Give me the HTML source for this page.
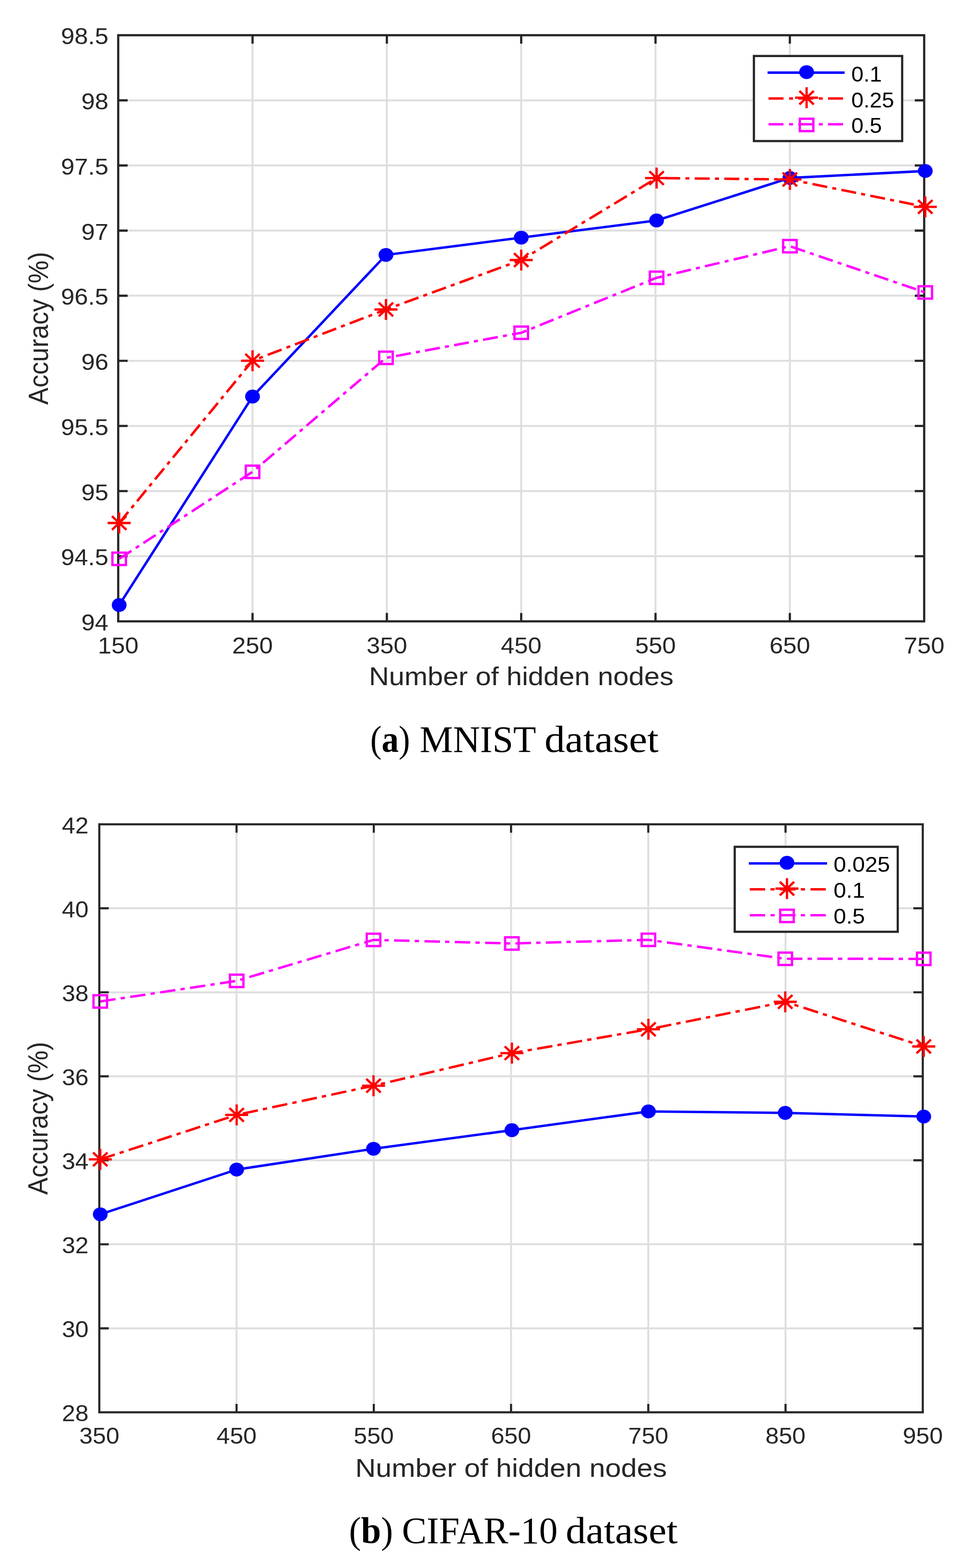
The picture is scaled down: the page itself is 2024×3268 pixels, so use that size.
<!DOCTYPE html>
<html><head><meta charset="utf-8"><title>Accuracy vs hidden nodes</title><style>html,body{margin:0;padding:0;background:#fff;}svg{display:block;}</style></head><body>
<svg width="2024" height="3268" viewBox="0 0 2024 3268">
<rect width="2024" height="3268" fill="#fff"/>
<rect x="246.4" y="73.4" width="1680" height="1221.6" fill="#fff"/>
<path d="M526.4 73.4V1295M806.4 73.4V1295M1086.4 73.4V1295M1366.4 73.4V1295M1646.4 73.4V1295M246.4 1159.27H1926.4M246.4 1023.53H1926.4M246.4 887.8H1926.4M246.4 752.07H1926.4M246.4 616.33H1926.4M246.4 480.6H1926.4M246.4 344.87H1926.4M246.4 209.13H1926.4" stroke="#dedede" stroke-width="4.0" fill="none"/>
<path d="M526.4 1295V1277.5M526.4 73.4V90.9M806.4 1295V1277.5M806.4 73.4V90.9M1086.4 1295V1277.5M1086.4 73.4V90.9M1366.4 1295V1277.5M1366.4 73.4V90.9M1646.4 1295V1277.5M1646.4 73.4V90.9M246.4 1159.27H266M1926.4 1159.27H1906.8M246.4 1023.53H266M1926.4 1023.53H1906.8M246.4 887.8H266M1926.4 887.8H1906.8M246.4 752.07H266M1926.4 752.07H1906.8M246.4 616.33H266M1926.4 616.33H1906.8M246.4 480.6H266M1926.4 480.6H1906.8M246.4 344.87H266M1926.4 344.87H1906.8M246.4 209.13H266M1926.4 209.13H1906.8" stroke="#262626" stroke-width="4.6" fill="none"/>
<rect x="246.4" y="73.4" width="1680" height="1221.6" stroke="#262626" stroke-width="4.6" fill="none" stroke-linejoin="miter"/>
<polyline points="248.4,1261 526.4,826.5 804.5,531.3 1086.5,495.3 1368.6,459.5 1646.5,370.9 1928.7,356.4" stroke="#0000ff" stroke-width="5.1" fill="none" stroke-linejoin="miter" stroke-linecap="butt"/>
<path d="M248.4 1090L267.37 1066.92M274 1058.86L279.06 1052.7M285.74 1044.57L304.72 1021.49M311.34 1013.43L316.4 1007.27M323.09 999.14L342.06 976.05M348.69 967.99L353.75 961.84M360.43 953.71L379.41 930.62M386.03 922.56L391.09 916.41M397.78 908.28L416.75 885.19M423.38 877.13L428.43 870.98M435.12 862.85L454.09 839.76M460.72 831.7L465.78 825.55M472.46 817.42L491.44 794.33M498.06 786.27L503.12 780.12M509.81 771.99L526.4 751.8L530.03 750.4M540.14 746.52L547.85 743.56M558.05 739.65L586.99 728.53M597.09 724.65L604.81 721.69M615 717.77L643.94 706.66M654.05 702.78L661.76 699.82M671.96 695.9L700.9 684.79M711.01 680.91L718.72 677.94M728.92 674.03L757.86 662.91M767.96 659.03L775.67 656.07M785.87 652.15L804.5 645L814.88 641.21M825.06 637.49L832.83 634.65M843.1 630.9L872.24 620.26M882.42 616.54L890.19 613.7M900.46 609.95L929.6 599.31M939.78 595.59L947.55 592.75M957.82 589L986.96 578.36M997.14 574.64L1004.9 571.8M1015.17 568.05L1044.32 557.41M1054.5 553.69L1062.26 550.85M1072.53 547.1L1086.5 542L1100.15 533.73M1109.31 528.18L1116.29 523.95M1125.53 518.35L1151.75 502.47M1160.9 496.92L1167.89 492.69M1177.13 487.1L1203.35 471.21M1212.5 465.67L1219.49 461.43M1228.73 455.84L1254.94 439.95M1264.1 434.41L1271.09 430.17M1280.32 424.58L1306.54 408.7M1315.7 403.15L1322.68 398.92M1331.92 393.32L1358.14 377.44M1367.29 371.89L1368.6 371.1L1375.39 371.17M1386.43 371.29L1417.76 371.61M1428.7 371.73L1437.04 371.81M1448.08 371.93L1479.41 372.26M1490.35 372.37L1498.7 372.46M1509.74 372.57L1541.07 372.9M1552.01 373.01L1560.36 373.1M1571.4 373.22L1602.72 373.54M1613.66 373.66L1622.01 373.74M1633.05 373.86L1646.5 374L1663.97 377.53M1674.66 379.7L1682.81 381.35M1693.6 383.53L1724.21 389.72M1734.9 391.89L1743.05 393.54M1753.84 395.72L1784.45 401.91M1795.13 404.07L1803.29 405.72M1814.08 407.91L1844.68 414.1M1855.37 416.26L1863.53 417.91M1874.32 420.1L1904.92 426.29M1915.61 428.45L1923.77 430.1" stroke="#ff0000" stroke-width="5.1" fill="none" stroke-linejoin="miter" stroke-linecap="butt"/>
<path d="M248.4 1164.7L274.01 1148M282.96 1142.16L289.79 1137.71M298.81 1131.82L324.43 1115.12M333.37 1109.29L340.2 1104.83M349.22 1098.95L374.84 1082.24M383.78 1076.41L390.61 1071.96M399.63 1066.07L425.25 1049.37M434.19 1043.53L441.02 1039.08M450.04 1033.2L475.66 1016.49M484.6 1010.66L491.43 1006.21M500.46 1000.32L526.07 983.62M534.14 976.78L540.28 971.54M548.39 964.61L571.42 944.94M579.46 938.07L585.6 932.82M593.71 925.89L616.74 906.22M624.78 899.35L630.91 894.11M639.03 887.18L662.05 867.5M670.09 860.63L676.23 855.39M684.34 848.46L707.37 828.79M715.41 821.92L721.54 816.67M729.66 809.74L752.68 790.07M760.72 783.2L766.86 777.96M774.97 771.03L798 751.35M806.55 745.42L814.74 743.9M825.57 741.89L856.29 736.2M867.01 734.21L875.2 732.69M886.03 730.68L916.75 724.98M927.47 722.99L935.66 721.47M946.48 719.47L977.2 713.77M987.93 711.78L996.12 710.26M1006.94 708.25L1037.66 702.56M1048.39 700.57L1056.58 699.05M1067.4 697.04L1086.5 693.5L1097.36 689.09M1107.38 685.03L1115.02 681.92M1125.13 677.82L1153.83 666.17M1163.85 662.11L1171.5 659M1181.61 654.9L1210.3 643.25M1220.32 639.18L1227.97 636.08M1238.08 631.98L1266.77 620.33M1276.79 616.26L1284.44 613.16M1294.55 609.05L1323.25 597.41M1333.27 593.34L1340.91 590.24M1351.02 586.13L1368.6 579L1380.36 576.21M1390.96 573.7L1399.05 571.78M1409.74 569.24L1440.09 562.05M1450.69 559.53L1458.78 557.62M1469.47 555.08L1499.83 547.88M1510.42 545.37L1518.51 543.45M1529.21 540.91L1559.56 533.72M1570.16 531.2L1578.24 529.29M1588.94 526.75L1619.29 519.55M1629.89 517.04L1637.98 515.12M1648.6 513.82L1678 523.86M1688.26 527.37L1696.09 530.04M1706.45 533.58L1735.84 543.62M1746.11 547.13L1753.94 549.8M1764.3 553.34L1793.69 563.38M1803.96 566.89L1811.79 569.56M1822.15 573.1L1851.54 583.14M1861.81 586.65L1869.64 589.32M1880 592.86L1909.39 602.9M1919.65 606.41L1927.49 609.09" stroke="#ff00ff" stroke-width="5.1" fill="none" stroke-linejoin="miter" stroke-linecap="butt"/>
<ellipse cx="248.4" cy="1261" rx="15.4" ry="14.4" fill="#0000ff"/>
<ellipse cx="526.4" cy="826.5" rx="15.4" ry="14.4" fill="#0000ff"/>
<ellipse cx="804.5" cy="531.3" rx="15.4" ry="14.4" fill="#0000ff"/>
<ellipse cx="1086.5" cy="495.3" rx="15.4" ry="14.4" fill="#0000ff"/>
<ellipse cx="1368.6" cy="459.5" rx="15.4" ry="14.4" fill="#0000ff"/>
<ellipse cx="1646.5" cy="370.9" rx="15.4" ry="14.4" fill="#0000ff"/>
<ellipse cx="1928.7" cy="356.4" rx="15.4" ry="14.4" fill="#0000ff"/>
<path d="M224.4 1090H272.4M248.4 1068.15V1111.85M233.4 1075.8L263.4 1104.2M233.4 1104.2L263.4 1075.8" stroke="#ff0000" stroke-width="4.8" fill="none" stroke-linecap="butt"/>
<path d="M502.4 751.8H550.4M526.4 729.95V773.65M511.4 737.6L541.4 766M511.4 766L541.4 737.6" stroke="#ff0000" stroke-width="4.8" fill="none" stroke-linecap="butt"/>
<path d="M780.5 645H828.5M804.5 623.15V666.85M789.5 630.8L819.5 659.2M789.5 659.2L819.5 630.8" stroke="#ff0000" stroke-width="4.8" fill="none" stroke-linecap="butt"/>
<path d="M1062.5 542H1110.5M1086.5 520.15V563.85M1071.5 527.8L1101.5 556.2M1071.5 556.2L1101.5 527.8" stroke="#ff0000" stroke-width="4.8" fill="none" stroke-linecap="butt"/>
<path d="M1344.6 371.1H1392.6M1368.6 349.25V392.95M1353.6 356.9L1383.6 385.3M1353.6 385.3L1383.6 356.9" stroke="#ff0000" stroke-width="4.8" fill="none" stroke-linecap="butt"/>
<path d="M1622.5 374H1670.5M1646.5 352.15V395.85M1631.5 359.8L1661.5 388.2M1631.5 388.2L1661.5 359.8" stroke="#ff0000" stroke-width="4.8" fill="none" stroke-linecap="butt"/>
<path d="M1904.7 431.1H1952.7M1928.7 409.25V452.95M1913.7 416.9L1943.7 445.3M1913.7 445.3L1943.7 416.9" stroke="#ff0000" stroke-width="4.8" fill="none" stroke-linecap="butt"/>
<rect x="234.3" y="1151.8" width="28.2" height="25.8" stroke="#ff00ff" stroke-width="4.8" fill="none"/>
<rect x="512.3" y="970.5" width="28.2" height="25.8" stroke="#ff00ff" stroke-width="4.8" fill="none"/>
<rect x="790.4" y="732.9" width="28.2" height="25.8" stroke="#ff00ff" stroke-width="4.8" fill="none"/>
<rect x="1072.4" y="680.6" width="28.2" height="25.8" stroke="#ff00ff" stroke-width="4.8" fill="none"/>
<rect x="1354.5" y="566.1" width="28.2" height="25.8" stroke="#ff00ff" stroke-width="4.8" fill="none"/>
<rect x="1632.4" y="500.2" width="28.2" height="25.8" stroke="#ff00ff" stroke-width="4.8" fill="none"/>
<rect x="1914.6" y="596.6" width="28.2" height="25.8" stroke="#ff00ff" stroke-width="4.8" fill="none"/>
<rect x="1571.5" y="116.7" width="309" height="177.3" fill="#fff" stroke="#262626" stroke-width="4.6"/>
<polyline points="1600,151.4 1760.6,151.4" stroke="#0000ff" stroke-width="5.1" fill="none" stroke-linejoin="miter" stroke-linecap="butt"/>
<ellipse cx="1681.3" cy="150.3" rx="15.4" ry="14.4" fill="#0000ff"/>
<text transform="translate(1774.5,169.6) scale(1.027,1)" font-family="'Liberation Sans', Arial, Helvetica, sans-serif" font-size="44.6" text-anchor="start" fill="#000">0.1</text>
<path d="M1602 205.3L1633.2 205.3M1644.8 205.3L1652.9 205.3M1664 205.3L1695.2 205.3M1706.8 205.3L1714.9 205.3M1726 205.3L1757.2 205.3" stroke="#ff0000" stroke-width="5.1" fill="none" stroke-linejoin="miter" stroke-linecap="butt"/>
<path d="M1657.3 203.6H1705.3M1681.3 181.75V225.45M1666.3 189.4L1696.3 217.8M1666.3 217.8L1696.3 189.4" stroke="#ff0000" stroke-width="4.8" fill="none" stroke-linecap="butt"/>
<text transform="translate(1774.5,223.9) scale(1.027,1)" font-family="'Liberation Sans', Arial, Helvetica, sans-serif" font-size="44.6" text-anchor="start" fill="#000">0.25</text>
<path d="M1602 259L1633.2 259M1644.8 259L1652.9 259M1664 259L1695.2 259M1706.8 259L1714.9 259M1726 259L1757.2 259" stroke="#ff00ff" stroke-width="5.1" fill="none" stroke-linejoin="miter" stroke-linecap="butt"/>
<rect x="1667.2" y="247.5" width="28.2" height="25.8" stroke="#ff00ff" stroke-width="4.8" fill="none"/>
<text transform="translate(1774.5,277.2) scale(1.027,1)" font-family="'Liberation Sans', Arial, Helvetica, sans-serif" font-size="44.6" text-anchor="start" fill="#000">0.5</text>
<text transform="translate(246.4,1361.9) scale(1.075,1)" font-family="'Liberation Sans', Arial, Helvetica, sans-serif" font-size="47.3" text-anchor="middle" fill="#262626">150</text>
<text transform="translate(526.4,1361.9) scale(1.075,1)" font-family="'Liberation Sans', Arial, Helvetica, sans-serif" font-size="47.3" text-anchor="middle" fill="#262626">250</text>
<text transform="translate(806.4,1361.9) scale(1.075,1)" font-family="'Liberation Sans', Arial, Helvetica, sans-serif" font-size="47.3" text-anchor="middle" fill="#262626">350</text>
<text transform="translate(1086.4,1361.9) scale(1.075,1)" font-family="'Liberation Sans', Arial, Helvetica, sans-serif" font-size="47.3" text-anchor="middle" fill="#262626">450</text>
<text transform="translate(1366.4,1361.9) scale(1.075,1)" font-family="'Liberation Sans', Arial, Helvetica, sans-serif" font-size="47.3" text-anchor="middle" fill="#262626">550</text>
<text transform="translate(1646.4,1361.9) scale(1.075,1)" font-family="'Liberation Sans', Arial, Helvetica, sans-serif" font-size="47.3" text-anchor="middle" fill="#262626">650</text>
<text transform="translate(1926.4,1361.9) scale(1.075,1)" font-family="'Liberation Sans', Arial, Helvetica, sans-serif" font-size="47.3" text-anchor="middle" fill="#262626">750</text>
<text transform="translate(226,1314) scale(1.075,1)" font-family="'Liberation Sans', Arial, Helvetica, sans-serif" font-size="47.3" text-anchor="end" fill="#262626">94</text>
<text transform="translate(226,1178.27) scale(1.075,1)" font-family="'Liberation Sans', Arial, Helvetica, sans-serif" font-size="47.3" text-anchor="end" fill="#262626">94.5</text>
<text transform="translate(226,1042.53) scale(1.075,1)" font-family="'Liberation Sans', Arial, Helvetica, sans-serif" font-size="47.3" text-anchor="end" fill="#262626">95</text>
<text transform="translate(226,906.8) scale(1.075,1)" font-family="'Liberation Sans', Arial, Helvetica, sans-serif" font-size="47.3" text-anchor="end" fill="#262626">95.5</text>
<text transform="translate(226,771.07) scale(1.075,1)" font-family="'Liberation Sans', Arial, Helvetica, sans-serif" font-size="47.3" text-anchor="end" fill="#262626">96</text>
<text transform="translate(226,635.33) scale(1.075,1)" font-family="'Liberation Sans', Arial, Helvetica, sans-serif" font-size="47.3" text-anchor="end" fill="#262626">96.5</text>
<text transform="translate(226,499.6) scale(1.075,1)" font-family="'Liberation Sans', Arial, Helvetica, sans-serif" font-size="47.3" text-anchor="end" fill="#262626">97</text>
<text transform="translate(226,363.87) scale(1.075,1)" font-family="'Liberation Sans', Arial, Helvetica, sans-serif" font-size="47.3" text-anchor="end" fill="#262626">97.5</text>
<text transform="translate(226,228.13) scale(1.075,1)" font-family="'Liberation Sans', Arial, Helvetica, sans-serif" font-size="47.3" text-anchor="end" fill="#262626">98</text>
<text transform="translate(226,92.4) scale(1.075,1)" font-family="'Liberation Sans', Arial, Helvetica, sans-serif" font-size="47.3" text-anchor="end" fill="#262626">98.5</text>
<text transform="translate(1086.4,1428) scale(1.082,1)" font-family="'Liberation Sans', Arial, Helvetica, sans-serif" font-size="53.6" text-anchor="middle" fill="#262626">Number of hidden nodes</text>
<text transform="translate(99.8,684.2) rotate(-90) scale(1,1.075)" font-family="'Liberation Sans', Arial, Helvetica, sans-serif" font-size="53.6" text-anchor="middle" fill="#262626">Accuracy (%)</text>
<rect x="207" y="1718" width="1716.5" height="1225.5" fill="#fff"/>
<path d="M493.08 1718V2943.5M779.17 1718V2943.5M1065.25 1718V2943.5M1351.33 1718V2943.5M1637.42 1718V2943.5M207 2768.43H1923.5M207 2593.36H1923.5M207 2418.29H1923.5M207 2243.21H1923.5M207 2068.14H1923.5M207 1893.07H1923.5" stroke="#dedede" stroke-width="4.0" fill="none"/>
<path d="M493.08 2943.5V2926M493.08 1718V1735.5M779.17 2943.5V2926M779.17 1718V1735.5M1065.25 2943.5V2926M1065.25 1718V1735.5M1351.33 2943.5V2926M1351.33 1718V1735.5M1637.42 2943.5V2926M1637.42 1718V1735.5M207 2768.43H226.6M1923.5 2768.43H1903.9M207 2593.36H226.6M1923.5 2593.36H1903.9M207 2418.29H226.6M1923.5 2418.29H1903.9M207 2243.21H226.6M1923.5 2243.21H1903.9M207 2068.14H226.6M1923.5 2068.14H1903.9M207 1893.07H226.6M1923.5 1893.07H1903.9" stroke="#262626" stroke-width="4.4" fill="none"/>
<rect x="207" y="1718" width="1716.5" height="1225.5" stroke="#262626" stroke-width="4.4" fill="none" stroke-linejoin="miter"/>
<polyline points="209,2530.8 493.3,2437.6 778.6,2394.3 1067,2355.5 1351.6,2316.4 1636.8,2319.5 1925.5,2327.1" stroke="#0000ff" stroke-width="5.0" fill="none" stroke-linejoin="miter" stroke-linecap="butt"/>
<path d="M209 2416.3L239.27 2406.43M249.39 2403.13L257.83 2400.38M268.31 2396.96L298.58 2387.09M308.7 2383.79L317.14 2381.04M327.63 2377.62L357.9 2367.75M368.02 2364.45L376.46 2361.7M386.94 2358.28L417.21 2348.41M427.33 2345.11L435.77 2342.36M446.26 2338.94L476.53 2329.07M486.65 2325.77L493.3 2323.6L495.15 2323.21M506.02 2320.89L537.4 2314.2M547.9 2311.97L556.64 2310.1M567.52 2307.78L598.89 2301.1M609.39 2298.86L618.13 2297M629.01 2294.68L660.38 2287.99M670.88 2285.76L679.62 2283.89M690.5 2281.58L721.88 2274.89M732.37 2272.65L741.12 2270.79M751.99 2268.47L778.6 2262.8L783.34 2261.68M793.77 2259.23L802.46 2257.18M813.27 2254.64L844.45 2247.3M854.89 2244.84L863.58 2242.79M874.39 2240.25L905.57 2232.91M916 2230.45L924.69 2228.4M935.5 2225.86L966.69 2218.52M977.12 2216.06L985.81 2214.01M996.62 2211.47L1027.81 2204.13M1038.24 2201.67L1046.93 2199.63M1057.74 2197.08L1067 2194.9L1089.26 2191.01M1099.85 2189.16L1108.68 2187.62M1119.66 2185.7L1151.32 2180.17M1161.92 2178.32L1170.74 2176.78M1181.72 2174.87L1213.39 2169.34M1223.98 2167.49L1232.8 2165.95M1243.78 2164.03L1275.45 2158.5M1286.04 2156.65L1294.87 2155.11M1305.84 2153.19L1337.51 2147.66M1348.1 2145.81L1351.6 2145.2L1356.9 2144.14M1367.81 2141.95L1399.28 2135.64M1409.81 2133.53L1418.58 2131.77M1429.49 2129.58L1460.97 2123.26M1471.5 2121.15L1480.27 2119.39M1491.18 2117.21L1522.66 2110.89M1533.19 2108.78L1541.96 2107.02M1552.87 2104.83L1584.35 2098.52M1594.88 2096.41L1603.65 2094.65M1614.56 2092.46L1636.8 2088L1645.69 2090.86M1655.83 2094.13L1664.28 2096.85M1674.78 2100.24L1705.09 2110M1715.23 2113.27L1723.68 2115.99M1734.18 2119.37L1764.5 2129.14M1774.63 2132.4L1783.08 2135.12M1793.59 2138.51L1823.9 2148.27M1834.03 2151.54L1842.48 2154.26M1852.99 2157.64L1883.3 2167.41M1893.44 2170.67L1901.88 2173.39M1912.39 2176.78L1925.5 2181" stroke="#ff0000" stroke-width="5.0" fill="none" stroke-linejoin="miter" stroke-linecap="butt"/>
<path d="M209 2087.2L240.82 2082.4M251.47 2080.79L260.34 2079.45M271.36 2077.79L303.19 2072.99M313.83 2071.38L322.7 2070.04M333.73 2068.38L365.55 2063.58M376.19 2061.97L385.06 2060.63M396.09 2058.97L427.91 2054.17M438.56 2052.56L447.43 2051.22M458.46 2049.56L490.28 2044.76M500.62 2042.11L509.14 2039.56M519.73 2036.39L550.29 2027.24M560.51 2024.18L569.03 2021.63M579.62 2018.46L610.18 2009.31M620.4 2006.26L628.92 2003.71M639.51 2000.54L670.07 1991.39M680.29 1988.33L688.8 1985.78M699.4 1982.61L729.95 1973.46M740.18 1970.4L748.69 1967.85M759.28 1964.68L778.6 1958.9L790.48 1959.21M801.27 1959.49L810.27 1959.72M821.45 1960.01L853.73 1960.85M864.52 1961.13L873.52 1961.37M884.7 1961.66L916.98 1962.5M927.78 1962.78L936.77 1963.01M947.96 1963.3L980.23 1964.14M991.03 1964.42L1000.02 1964.66M1011.21 1964.95L1043.48 1965.79M1054.28 1966.07L1063.28 1966.3M1074.46 1966.2L1106.74 1965.34M1117.53 1965.05L1126.53 1964.81M1137.71 1964.51L1169.99 1963.65M1180.78 1963.36L1189.78 1963.12M1200.96 1962.82L1233.24 1961.96M1244.03 1961.67L1253.03 1961.43M1264.21 1961.13L1296.49 1960.27M1307.28 1959.98L1316.28 1959.74M1327.46 1959.44L1351.6 1958.8L1359.64 1959.91M1370.31 1961.39L1379.2 1962.62M1390.25 1964.15L1422.15 1968.57M1432.82 1970.05L1441.71 1971.28M1452.76 1972.81L1484.65 1977.23M1495.32 1978.71L1504.21 1979.94M1515.26 1981.47L1547.16 1985.88M1557.83 1987.36L1566.72 1988.59M1577.77 1990.12L1609.67 1994.54M1620.33 1996.02L1629.22 1997.25M1640.32 1998.3L1672.61 1998.31M1683.41 1998.32L1692.41 1998.32M1703.6 1998.32L1735.89 1998.33M1746.69 1998.34L1755.69 1998.34M1766.88 1998.35L1799.17 1998.36M1809.97 1998.36L1818.97 1998.36M1830.16 1998.37L1862.45 1998.38M1873.25 1998.38L1882.25 1998.39M1893.44 1998.39L1925.5 1998.4" stroke="#ff00ff" stroke-width="5.0" fill="none" stroke-linejoin="miter" stroke-linecap="butt"/>
<ellipse cx="209" cy="2530.8" rx="15.4" ry="14.4" fill="#0000ff"/>
<ellipse cx="493.3" cy="2437.6" rx="15.4" ry="14.4" fill="#0000ff"/>
<ellipse cx="778.6" cy="2394.3" rx="15.4" ry="14.4" fill="#0000ff"/>
<ellipse cx="1067" cy="2355.5" rx="15.4" ry="14.4" fill="#0000ff"/>
<ellipse cx="1351.6" cy="2316.4" rx="15.4" ry="14.4" fill="#0000ff"/>
<ellipse cx="1636.8" cy="2319.5" rx="15.4" ry="14.4" fill="#0000ff"/>
<ellipse cx="1925.5" cy="2327.1" rx="15.4" ry="14.4" fill="#0000ff"/>
<path d="M185 2416.3H233M209 2394.45V2438.15M194 2402.1L224 2430.5M194 2430.5L224 2402.1" stroke="#ff0000" stroke-width="4.8" fill="none" stroke-linecap="butt"/>
<path d="M469.3 2323.6H517.3M493.3 2301.75V2345.45M478.3 2309.4L508.3 2337.8M478.3 2337.8L508.3 2309.4" stroke="#ff0000" stroke-width="4.8" fill="none" stroke-linecap="butt"/>
<path d="M754.6 2262.8H802.6M778.6 2240.95V2284.65M763.6 2248.6L793.6 2277M763.6 2277L793.6 2248.6" stroke="#ff0000" stroke-width="4.8" fill="none" stroke-linecap="butt"/>
<path d="M1043 2194.9H1091M1067 2173.05V2216.75M1052 2180.7L1082 2209.1M1052 2209.1L1082 2180.7" stroke="#ff0000" stroke-width="4.8" fill="none" stroke-linecap="butt"/>
<path d="M1327.6 2145.2H1375.6M1351.6 2123.35V2167.05M1336.6 2131L1366.6 2159.4M1336.6 2159.4L1366.6 2131" stroke="#ff0000" stroke-width="4.8" fill="none" stroke-linecap="butt"/>
<path d="M1612.8 2088H1660.8M1636.8 2066.15V2109.85M1621.8 2073.8L1651.8 2102.2M1621.8 2102.2L1651.8 2073.8" stroke="#ff0000" stroke-width="4.8" fill="none" stroke-linecap="butt"/>
<path d="M1901.5 2181H1949.5M1925.5 2159.15V2202.85M1910.5 2166.8L1940.5 2195.2M1910.5 2195.2L1940.5 2166.8" stroke="#ff0000" stroke-width="4.8" fill="none" stroke-linecap="butt"/>
<rect x="194.9" y="2074.3" width="28.2" height="25.8" stroke="#ff00ff" stroke-width="4.8" fill="none"/>
<rect x="479.2" y="2031.4" width="28.2" height="25.8" stroke="#ff00ff" stroke-width="4.8" fill="none"/>
<rect x="764.5" y="1946" width="28.2" height="25.8" stroke="#ff00ff" stroke-width="4.8" fill="none"/>
<rect x="1052.9" y="1953.5" width="28.2" height="25.8" stroke="#ff00ff" stroke-width="4.8" fill="none"/>
<rect x="1337.5" y="1945.9" width="28.2" height="25.8" stroke="#ff00ff" stroke-width="4.8" fill="none"/>
<rect x="1622.7" y="1985.4" width="28.2" height="25.8" stroke="#ff00ff" stroke-width="4.8" fill="none"/>
<rect x="1911.4" y="1985.5" width="28.2" height="25.8" stroke="#ff00ff" stroke-width="4.8" fill="none"/>
<rect x="1531.5" y="1764.9" width="339.8" height="177.1" fill="#fff" stroke="#262626" stroke-width="4.6"/>
<polyline points="1560.9,1799.4 1723.9,1799.4" stroke="#0000ff" stroke-width="5.0" fill="none" stroke-linejoin="miter" stroke-linecap="butt"/>
<ellipse cx="1640.4" cy="1798.2" rx="15.4" ry="14.4" fill="#0000ff"/>
<text transform="translate(1737.5,1817.4) scale(1.07,1)" font-family="'Liberation Sans', Arial, Helvetica, sans-serif" font-size="44.0" text-anchor="start" fill="#000">0.025</text>
<path d="M1562.9 1853.5L1594.9 1853.5M1606.1 1853.5L1614.7 1853.5M1626.1 1853.5L1658.1 1853.5M1669.3 1853.5L1677.9 1853.5M1689.3 1853.5L1721.3 1853.5" stroke="#ff0000" stroke-width="5.0" fill="none" stroke-linejoin="miter" stroke-linecap="butt"/>
<path d="M1616.4 1852H1664.4M1640.4 1830.15V1873.85M1625.4 1837.8L1655.4 1866.2M1625.4 1866.2L1655.4 1837.8" stroke="#ff0000" stroke-width="4.8" fill="none" stroke-linecap="butt"/>
<text transform="translate(1737.5,1871.4) scale(1.07,1)" font-family="'Liberation Sans', Arial, Helvetica, sans-serif" font-size="44.0" text-anchor="start" fill="#000">0.1</text>
<path d="M1562.9 1907.4L1594.9 1907.4M1606.1 1907.4L1614.7 1907.4M1626.1 1907.4L1658.1 1907.4M1669.3 1907.4L1677.9 1907.4M1689.3 1907.4L1721.3 1907.4" stroke="#ff00ff" stroke-width="5.0" fill="none" stroke-linejoin="miter" stroke-linecap="butt"/>
<rect x="1626.3" y="1896" width="28.2" height="25.8" stroke="#ff00ff" stroke-width="4.8" fill="none"/>
<text transform="translate(1737.5,1925.3) scale(1.07,1)" font-family="'Liberation Sans', Arial, Helvetica, sans-serif" font-size="44.0" text-anchor="start" fill="#000">0.5</text>
<text transform="translate(207,3009.1) scale(1.06,1)" font-family="'Liberation Sans', Arial, Helvetica, sans-serif" font-size="47.3" text-anchor="middle" fill="#262626">350</text>
<text transform="translate(493.08,3009.1) scale(1.06,1)" font-family="'Liberation Sans', Arial, Helvetica, sans-serif" font-size="47.3" text-anchor="middle" fill="#262626">450</text>
<text transform="translate(779.17,3009.1) scale(1.06,1)" font-family="'Liberation Sans', Arial, Helvetica, sans-serif" font-size="47.3" text-anchor="middle" fill="#262626">550</text>
<text transform="translate(1065.25,3009.1) scale(1.06,1)" font-family="'Liberation Sans', Arial, Helvetica, sans-serif" font-size="47.3" text-anchor="middle" fill="#262626">650</text>
<text transform="translate(1351.33,3009.1) scale(1.06,1)" font-family="'Liberation Sans', Arial, Helvetica, sans-serif" font-size="47.3" text-anchor="middle" fill="#262626">750</text>
<text transform="translate(1637.42,3009.1) scale(1.06,1)" font-family="'Liberation Sans', Arial, Helvetica, sans-serif" font-size="47.3" text-anchor="middle" fill="#262626">850</text>
<text transform="translate(1923.5,3009.1) scale(1.06,1)" font-family="'Liberation Sans', Arial, Helvetica, sans-serif" font-size="47.3" text-anchor="middle" fill="#262626">950</text>
<text transform="translate(184.7,2962.3) scale(1.06,1)" font-family="'Liberation Sans', Arial, Helvetica, sans-serif" font-size="47.3" text-anchor="end" fill="#262626">28</text>
<text transform="translate(184.7,2787.23) scale(1.06,1)" font-family="'Liberation Sans', Arial, Helvetica, sans-serif" font-size="47.3" text-anchor="end" fill="#262626">30</text>
<text transform="translate(184.7,2612.16) scale(1.06,1)" font-family="'Liberation Sans', Arial, Helvetica, sans-serif" font-size="47.3" text-anchor="end" fill="#262626">32</text>
<text transform="translate(184.7,2437.09) scale(1.06,1)" font-family="'Liberation Sans', Arial, Helvetica, sans-serif" font-size="47.3" text-anchor="end" fill="#262626">34</text>
<text transform="translate(184.7,2262.01) scale(1.06,1)" font-family="'Liberation Sans', Arial, Helvetica, sans-serif" font-size="47.3" text-anchor="end" fill="#262626">36</text>
<text transform="translate(184.7,2086.94) scale(1.06,1)" font-family="'Liberation Sans', Arial, Helvetica, sans-serif" font-size="47.3" text-anchor="end" fill="#262626">38</text>
<text transform="translate(184.7,1911.87) scale(1.06,1)" font-family="'Liberation Sans', Arial, Helvetica, sans-serif" font-size="47.3" text-anchor="end" fill="#262626">40</text>
<text transform="translate(184.7,1736.8) scale(1.06,1)" font-family="'Liberation Sans', Arial, Helvetica, sans-serif" font-size="47.3" text-anchor="end" fill="#262626">42</text>
<text transform="translate(1065.25,3077.5) scale(1.107,1)" font-family="'Liberation Sans', Arial, Helvetica, sans-serif" font-size="53.6" text-anchor="middle" fill="#262626">Number of hidden nodes</text>
<text transform="translate(99,2330.75) rotate(-90) scale(1,1.06)" font-family="'Liberation Sans', Arial, Helvetica, sans-serif" font-size="53.6" text-anchor="middle" fill="#262626">Accuracy (%)</text>
<text transform="translate(771.66,1567.2) scale(0.913,1)" font-family="'Liberation Serif', 'Times New Roman', serif" font-size="78" fill="#000">(<tspan font-weight="bold">a</tspan>)</text>
<text transform="translate(874.8,1567.2) scale(1.0,1)" font-family="'Liberation Serif', 'Times New Roman', serif" font-size="78" fill="#000">MNIST</text>
<text transform="translate(1135.01,1567.2) scale(1.098,1)" font-family="'Liberation Serif', 'Times New Roman', serif" font-size="78" fill="#000">dataset</text>
<text transform="translate(727.51,3216.3) scale(0.962,1)" font-family="'Liberation Serif', 'Times New Roman', serif" font-size="78" fill="#000">(<tspan font-weight="bold">b</tspan>)</text>
<text transform="translate(837.83,3216.3) scale(0.99,1)" font-family="'Liberation Serif', 'Times New Roman', serif" font-size="78" fill="#000">CIFAR-10</text>
<text transform="translate(1179.37,3216.3) scale(1.077,1)" font-family="'Liberation Serif', 'Times New Roman', serif" font-size="78" fill="#000">dataset</text>
</svg>
</body></html>
